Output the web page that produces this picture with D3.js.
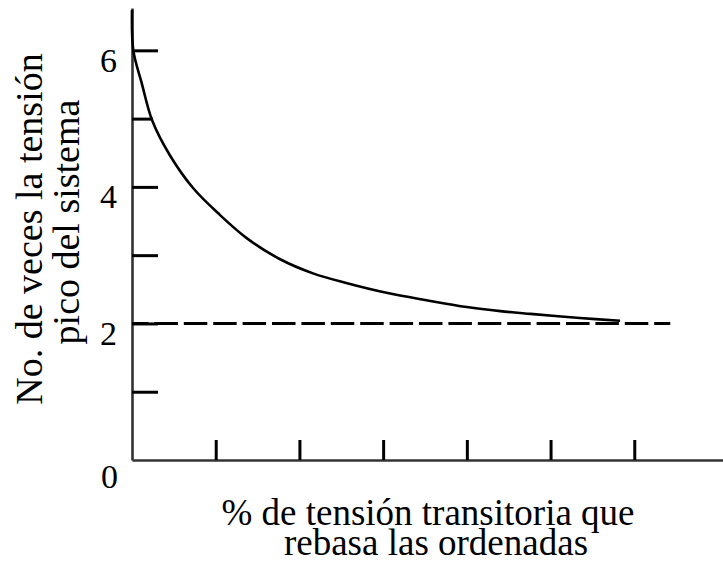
<!DOCTYPE html>
<html>
<head>
<meta charset="utf-8">
<script src="https://cdn.jsdelivr.net/npm/d3@7"></script>
<style>
  html, body { margin: 0; padding: 0; background: #fff; }
  svg { display: block; }
  svg text { font-family: "Liberation Serif", "Tinos", "Times New Roman", Times, "DejaVu Serif", serif !important; fill: #000; }
</style>
</head>
<body>
<svg id="chart" width="723" height="563"></svg>
<script>
// ---- data ----
const curveX = [0, 0.16, 1.16, 2.45, 4.54, 7.32, 10.5, 13.7, 17.7, 21.7, 25.7, 30.4, 35.2, 40.0, 44.0, 47.6, 53.5, 58.3];
const curveY = [6.59, 6.0, 5.52, 4.96, 4.46, 3.98, 3.59, 3.25, 2.94, 2.73, 2.59, 2.45, 2.34, 2.24, 2.18, 2.14, 2.08, 2.04];
const refX = [0, 64.3];
const refY = [2, 2];
const xTicks = [10, 20, 30, 40, 50, 60];
const yTicks = [1, 2, 3, 4, 5, 6];
const yTickLabels = {2: "2", 4: "4", 6: "6"};
const originLabel = "0";
const xTitle = ["% de tensión transitoria que", "rebasa las ordenadas"];
const yTitle = ["No. de veces la tensión", "pico del sistema"];

// ---- layout ----
const FONT = '"Liberation Serif", "Tinos", "Times New Roman", Times, "DejaVu Serif", serif';
const svg = d3.select("#chart");
const x0 = 132, y0 = 460;
const x = d3.scaleLinear().domain([0, 70.6]).range([x0, 723]);
const y = d3.scaleLinear().domain([0, 6.62]).range([y0, 8]);

// x axis
const gx = svg.append("g").attr("transform", `translate(0,${y0})`)
  .call(d3.axisBottom(x).tickValues(xTicks).tickSizeInner(-20).tickSizeOuter(0).tickFormat(""));
gx.select(".domain").attr("stroke", "#333").attr("stroke-width", 2.6);
gx.selectAll(".tick line").attr("stroke", "#000").attr("stroke-width", 3);

// y axis
const gy = svg.append("g").attr("transform", `translate(${x0},0)`)
  .attr("font-family", FONT)
  .call(d3.axisLeft(y).tickValues(yTicks).tickSizeInner(-26).tickSizeOuter(0)
    .tickPadding(15).tickFormat(d => yTickLabels[d] || ""));
gy.attr("font-family", FONT);
gy.select(".domain").attr("stroke", "#333").attr("stroke-width", 2.6);
gy.selectAll(".tick line").attr("stroke", "#000").attr("stroke-width", 3)
  .attr("x2", d => d === 5 ? 21 : 26);
gy.selectAll(".tick text").attr("font-size", 34).attr("dy", "0.62em")
  .attr("font-family", FONT).attr("fill", "#000");

// origin label
svg.append("text").attr("x", 118).attr("y", 488).attr("text-anchor", "end")
  .attr("font-family", FONT).attr("font-size", 34).text(originLabel);

// dashed reference line
const refLine = d3.line().x(d => x(d[0])).y(d => y(d[1]));
svg.append("path").datum(refX.map((v, i) => [v, refY[i]]))
  .attr("d", refLine).attr("fill", "none").attr("stroke", "#000")
  .attr("stroke-width", 3).attr("stroke-dasharray", "23.5,5.9").attr("stroke-dashoffset", 7);

// curve
const line = d3.line().x(d => x(d[0])).y(d => y(d[1])).curve(d3.curveCatmullRom.alpha(0.5));
svg.append("path").datum(curveX.map((v, i) => [v, curveY[i]]))
  .attr("d", line).attr("fill", "none").attr("stroke", "#000").attr("stroke-width", 2.6);

// x title
svg.append("text").attr("x", 428).attr("y", 525).attr("text-anchor", "middle")
  .attr("font-family", FONT).attr("font-size", 37).text(xTitle[0]);
svg.append("text").attr("x", 436).attr("y", 555).attr("text-anchor", "middle")
  .attr("font-family", FONT).attr("font-size", 37).text(xTitle[1]);

// y title
svg.append("text").attr("transform", "translate(42,229) rotate(-90)").attr("text-anchor", "middle")
  .attr("font-family", FONT).attr("font-size", 38).text(yTitle[0]);
svg.append("text").attr("transform", "translate(79,222) rotate(-90)").attr("text-anchor", "middle")
  .attr("font-family", FONT).attr("font-size", 38).text(yTitle[1]);
</script>
</body>
</html>
